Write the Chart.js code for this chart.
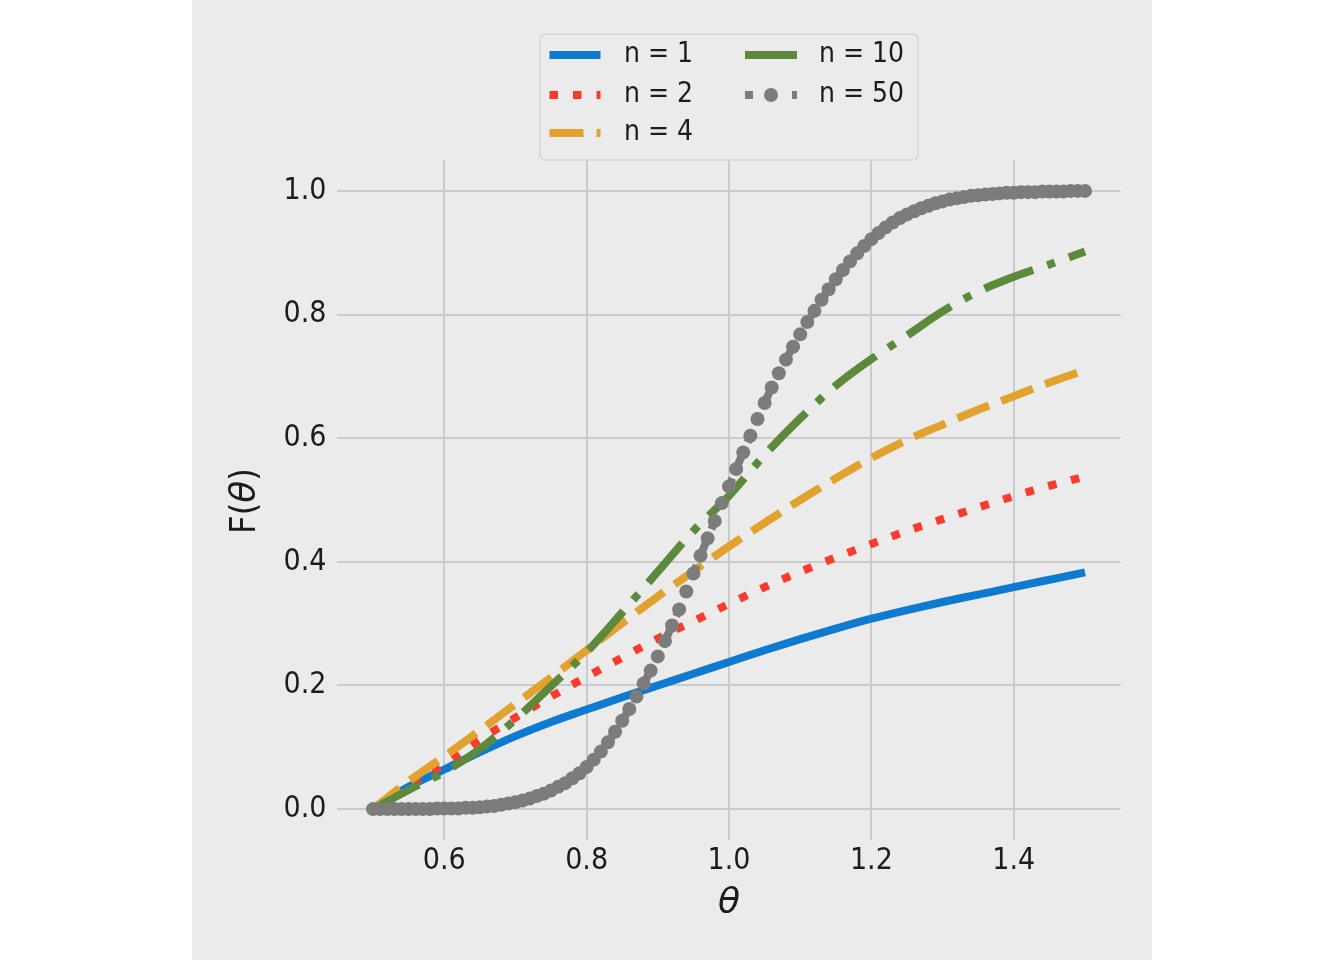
<!DOCTYPE html>
<html>
<head>
<meta charset="utf-8">
<script src="https://cdn.jsdelivr.net/npm/chart.js@4.4.0/dist/chart.umd.min.js"></script>
<style>
  html, body { margin: 0; padding: 0; background: #fff; }
  #wrap { width: 1344px; height: 960px; }
</style>
</head>
<body>
<div id="wrap"><canvas id="grafica" width="1344" height="960"></canvas></div>
<script>
const thetaGrueso = [0.50, 0.55, 0.60, 0.65, 0.70, 0.75, 0.80, 0.85, 0.90, 0.95, 1.00,
                     1.05, 1.10, 1.15, 1.20, 1.25, 1.30, 1.35, 1.40, 1.45, 1.50];
const fN1  = [0.000, 0.036, 0.064, 0.092, 0.118, 0.141, 0.161, 0.181, 0.200, 0.219, 0.238,
              0.257, 0.275, 0.292, 0.308, 0.322, 0.335, 0.347, 0.359, 0.371, 0.383];
const fN2  = [0.000, 0.036, 0.073, 0.112, 0.148, 0.182, 0.214, 0.245, 0.276, 0.304, 0.332,
              0.359, 0.384, 0.407, 0.429, 0.450, 0.469, 0.488, 0.506, 0.523, 0.538];
const fN4  = [0.000, 0.045, 0.085, 0.127, 0.170, 0.213, 0.257, 0.301, 0.344, 0.385, 0.425,
              0.463, 0.500, 0.535, 0.568, 0.597, 0.622, 0.646, 0.668, 0.690, 0.710];
const fN10 = [0.000, 0.031, 0.060, 0.097, 0.145, 0.199, 0.254, 0.318, 0.384, 0.450, 0.507,
              0.573, 0.632, 0.685, 0.728, 0.766, 0.805, 0.837, 0.861, 0.881, 0.902];

// n = 50 va con marcadores, theta cada 0.01
const thetaFino = [
  0.50, 0.51, 0.52, 0.53, 0.54, 0.55, 0.56, 0.57, 0.58, 0.59,
  0.60, 0.61, 0.62, 0.63, 0.64, 0.65, 0.66, 0.67, 0.68, 0.69,
  0.70, 0.71, 0.72, 0.73, 0.74, 0.75, 0.76, 0.77, 0.78, 0.79,
  0.80, 0.81, 0.82, 0.83, 0.84, 0.85, 0.86, 0.87, 0.88, 0.89,
  0.90, 0.91, 0.92, 0.93, 0.94, 0.95, 0.96, 0.97, 0.98, 0.99,
  1.00, 1.01, 1.02, 1.03, 1.04, 1.05, 1.06, 1.07, 1.08, 1.09,
  1.10, 1.11, 1.12, 1.13, 1.14, 1.15, 1.16, 1.17, 1.18, 1.19,
  1.20, 1.21, 1.22, 1.23, 1.24, 1.25, 1.26, 1.27, 1.28, 1.29,
  1.30, 1.31, 1.32, 1.33, 1.34, 1.35, 1.36, 1.37, 1.38, 1.39,
  1.40, 1.41, 1.42, 1.43, 1.44, 1.45, 1.46, 1.47, 1.48, 1.49, 1.50];
const fN50 = [
  0.000, 0.000, 0.000, 0.000, 0.000, 0.000, 0.000, 0.000, 0.000, 0.001,
  0.001, 0.001, 0.001, 0.002, 0.002, 0.003, 0.004, 0.005, 0.007, 0.009,
  0.011, 0.014, 0.017, 0.021, 0.025, 0.030, 0.036, 0.042, 0.050, 0.058,
  0.068, 0.080, 0.093, 0.108, 0.125, 0.143, 0.162, 0.182, 0.203, 0.224,
  0.247, 0.272, 0.297, 0.323, 0.352, 0.381, 0.410, 0.438, 0.466, 0.495,
  0.522, 0.550, 0.577, 0.604, 0.631, 0.657, 0.682, 0.705, 0.727, 0.748,
  0.768, 0.788, 0.806, 0.824, 0.841, 0.857, 0.872, 0.886, 0.899, 0.911,
  0.922, 0.932, 0.941, 0.949, 0.956, 0.962, 0.967, 0.972, 0.976, 0.980,
  0.983, 0.986, 0.988, 0.990, 0.992, 0.993, 0.994, 0.995, 0.996, 0.997,
  0.997, 0.998, 0.998, 0.998, 0.999, 0.999, 0.999, 0.999, 1.000, 1.000, 1.000];

const ticksX = [0.6, 0.8, 1.0, 1.2, 1.4];
const ticksY = [0.0, 0.2, 0.4, 0.6, 0.8, 1.0];
const etiquetas = ['n = 1', 'n = 2', 'n = 4', 'n = 10', 'n = 50'];

// --- estilo (tipo fivethirtyeight)
const FONDO = '#ebebeb';
const GRID = '#cbcbcb';
const TEXTO = '#1c1c1c';
const FUENTE = "'DejaVu Sans Condensed', 'Liberation Sans Narrow', 'DejaVu Sans', sans-serif";
const COLORES = ['#0f7bd0', '#fa3a2c', '#e1a22e', '#5c893b', '#7c7c7c'];

const pares = (xs, ys) => xs.map((x, i) => ({ x: x, y: ys[i] }));

function serie(i, xs, ys, dash, extra = {}) {
  return Object.assign({
    label: etiquetas[i],
    data: pares(xs, ys),
    borderColor: COLORES[i],
    backgroundColor: COLORES[i],
    borderWidth: 8,
    borderDash: dash,
    borderCapStyle: 'butt',
    pointRadius: 0,
    cubicInterpolationMode: 'monotone',
    fill: false,
    order: 4 - i   // el ultimo (n = 50) queda encima
  }, extra);
}

const datasets = [
  serie(0, thetaGrueso, fN1, []),
  serie(1, thetaGrueso, fN2, [8.5, 15]),
  serie(2, thetaGrueso, fN4, [34, 13]),
  serie(3, thetaGrueso, fN10, [52, 15, 8, 15]),
  serie(4, thetaFino, fN50, [8, 15.5], { pointRadius: 7, pointBorderWidth: 0, pointHoverRadius: 7 })
];

// fondo gris de la figura (la pagina es blanca a los lados)
const pluginFondo = {
  id: 'fondo',
  beforeDraw(chart) {
    const ctx = chart.ctx;
    ctx.save();
    ctx.fillStyle = '#ffffff';
    ctx.fillRect(0, 0, chart.width, chart.height);
    ctx.fillStyle = FONDO;
    ctx.fillRect(192, 0, 960, 960);
    ctx.restore();
  }
};

// etiqueta del eje y con theta en cursiva, F( ) normal
const pluginEtiquetaY = {
  id: 'etiquetaY',
  afterDraw(chart) {
    const ctx = chart.ctx;
    const normal = `36px ${FUENTE}`;
    const cursiva = `italic 36px 'DejaVu Sans', sans-serif`;
    const partes = [['F(', normal], ['θ', cursiva], [')', normal]];
    ctx.save();
    let total = 0;
    for (const [t, f] of partes) { ctx.font = f; total += ctx.measureText(t).width; }
    ctx.translate(246, 501);
    ctx.rotate(-Math.PI / 2);
    ctx.fillStyle = TEXTO;
    ctx.textBaseline = 'middle';
    let x = -total / 2;
    for (const [t, f] of partes) {
      ctx.font = f;
      ctx.fillText(t, x, 0);
      x += ctx.measureText(t).width;
    }
    ctx.restore();
  }
};

// leyenda en dos columnas (la de chart.js no ordena por columnas)
const pluginLeyenda = {
  id: 'leyenda2col',
  afterDraw(chart) {
    const ctx = chart.ctx;
    const caja = { x: 540, y: 34, w: 378, h: 126 };
    const pos = [
      { x0: 549.5, x1: 600.5, tx: 624, y: 55 },
      { x0: 549.5, x1: 600.5, tx: 624, y: 95 },
      { x0: 549.5, x1: 600.5, tx: 624, y: 133 },
      { x0: 745, x1: 797, tx: 819, y: 55 },
      { x0: 745, x1: 797, tx: 819, y: 95 }
    ];
    ctx.save();
    ctx.beginPath();
    ctx.roundRect(caja.x, caja.y, caja.w, caja.h, 5);
    ctx.fillStyle = FONDO;
    ctx.fill();
    ctx.strokeStyle = '#d6d6d6';
    ctx.lineWidth = 1.5;
    ctx.stroke();

    chart.data.datasets.forEach((ds, i) => {
      const p = pos[i];
      ctx.beginPath();
      ctx.setLineDash(ds.borderDash);
      ctx.lineDashOffset = 0;
      ctx.lineCap = 'butt';
      ctx.lineWidth = ds.borderWidth;
      ctx.strokeStyle = ds.borderColor;
      ctx.moveTo(p.x0, p.y);
      ctx.lineTo(p.x1, p.y);
      ctx.stroke();
      if (ds.pointRadius > 0) {
        ctx.setLineDash([]);
        ctx.beginPath();
        ctx.arc((p.x0 + p.x1) / 2, p.y, ds.pointRadius, 0, Math.PI * 2);
        ctx.fillStyle = ds.backgroundColor;
        ctx.fill();
      }
      ctx.setLineDash([]);
      ctx.fillStyle = TEXTO;
      ctx.font = `28px ${FUENTE}`;
      ctx.textBaseline = 'middle';
      ctx.fillText(ds.label, p.tx, p.y);
    });
    ctx.restore();
  }
};

const fuenteTicks = { family: FUENTE, size: 30 };

new Chart(document.getElementById('grafica'), {
  type: 'line',
  data: { datasets: datasets },
  plugins: [pluginFondo, pluginEtiquetaY, pluginLeyenda],
  options: {
    responsive: false,
    animation: false,
    devicePixelRatio: 1,
    layout: { padding: { left: 192, right: 223.4, top: 160, bottom: 0 } },
    plugins: { legend: { display: false }, tooltip: { enabled: false } },
    scales: {
      x: {
        type: 'linear',
        min: 0.45,
        max: 1.55,
        afterBuildTicks: (s) => { s.ticks = ticksX.map(v => ({ value: v })); },
        afterFit: (s) => { s.height = 120; },
        ticks: {
          callback: (v) => Number(v).toFixed(1),
          font: fuenteTicks, color: TEXTO, padding: 3,
          maxRotation: 0, autoSkip: false
        },
        grid: { color: GRID, lineWidth: 2, drawTicks: false },
        border: { display: false },
        title: {
          display: true, text: 'θ', color: TEXTO,
          font: { family: "'DejaVu Sans', sans-serif", size: 36, style: 'italic' },
          padding: { top: 0, bottom: 35 }
        }
      },
      y: {
        type: 'linear',
        min: -0.05,
        max: 1.05,
        afterBuildTicks: (s) => { s.ticks = ticksY.map(v => ({ value: v })); },
        afterFit: (s) => { s.width = 145.4; },
        ticks: {
          callback: (v) => Number(v).toFixed(1),
          font: fuenteTicks, color: TEXTO, padding: 11, autoSkip: false
        },
        grid: { color: GRID, lineWidth: 2, drawTicks: false },
        border: { display: false }
      }
    }
  }
});
</script>
</body>
</html>
